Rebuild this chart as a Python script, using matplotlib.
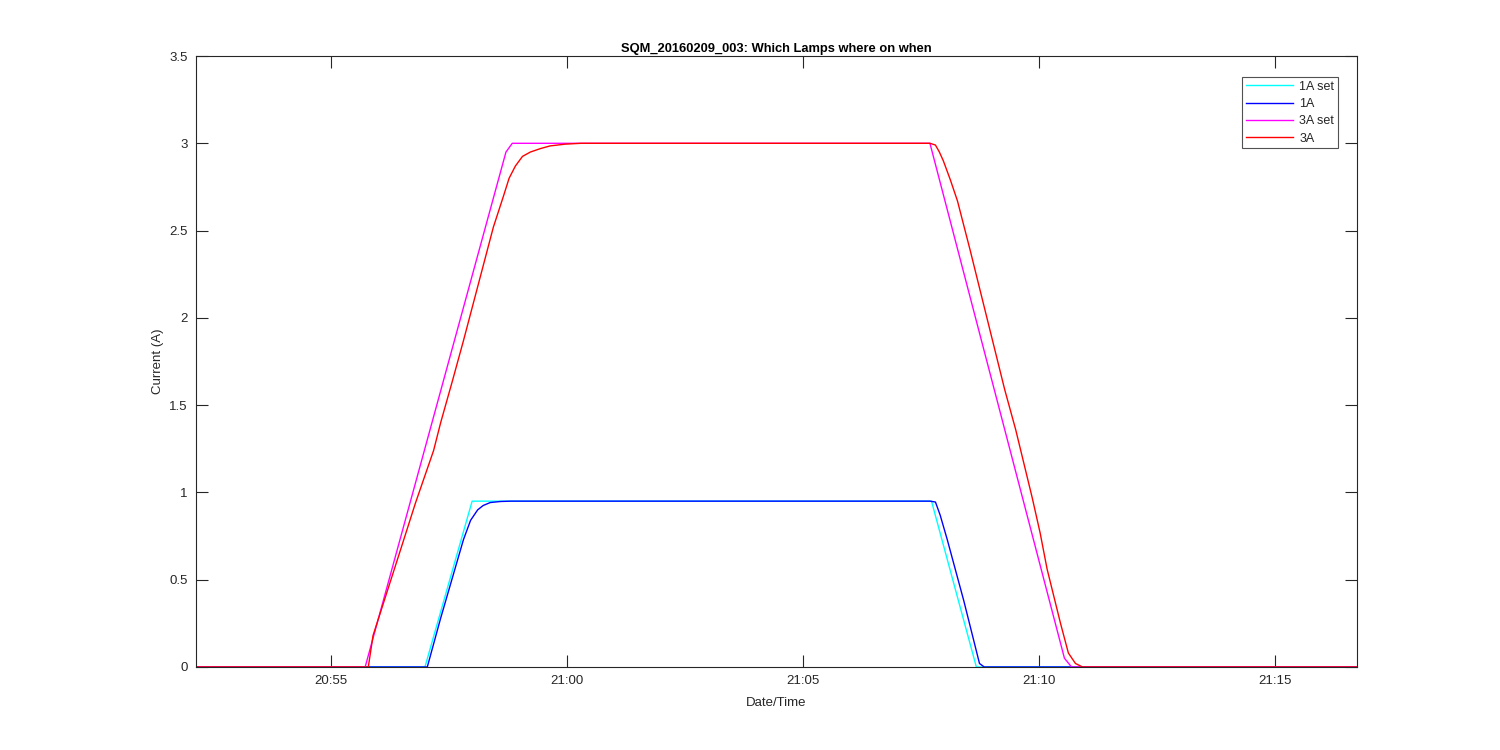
import matplotlib
matplotlib.use("Agg")
import matplotlib.pyplot as plt
import pandas as pd

DAY = "2016-02-09 "

# 1A set (cyan)
t_1a_set = ["20:52:08", "20:56:59", "20:57:59", "21:07:43", "21:08:40", "21:16:44"]
v_1a_set = [0.0, 0.0, 0.95, 0.95, 0.0, 0.0]

# 1A (blue)
t_1a = ["20:52:08", "20:57:02", "20:57:19", "20:57:48", "20:57:57", "20:58:06", "20:58:13",
        "20:58:22", "20:58:35", "20:58:48", "21:07:41", "21:07:48", "21:07:54", "21:08:03",
        "21:08:24", "21:08:44", "21:08:50", "21:16:44"]
v_1a = [0.0, 0.0, 0.28, 0.73, 0.84, 0.90, 0.925,
        0.942, 0.948, 0.95, 0.95, 0.945, 0.87, 0.73,
        0.38, 0.02, 0.0, 0.0]

# 3A set (magenta)
t_3a_set = ["20:52:08", "20:55:43", "20:58:42", "20:58:50", "21:07:41", "21:10:32", "21:10:41", "21:16:44"]
v_3a_set = [0.0, 0.0, 2.95, 3.0, 3.0, 0.05, 0.0, 0.0]

# 3A (red)
t_3a = ["20:52:08", "20:55:47", "20:55:53", "20:56:30", "20:56:47", "20:57:10", "20:57:19",
        "20:57:34", "20:57:48", "20:58:26", "20:58:39", "20:58:46", "20:58:54", "20:59:03",
        "20:59:13", "20:59:26", "20:59:38", "20:59:57", "21:00:17",
        "21:07:41", "21:07:48", "21:07:53", "21:07:58", "21:08:07", "21:08:16", "21:08:32",
        "21:09:16", "21:09:30", "21:09:51", "21:10:01", "21:10:10", "21:10:27", "21:10:37",
        "21:10:46", "21:10:55", "21:16:44"]
v_3a = [0.0, 0.0, 0.18, 0.70, 0.94, 1.24, 1.40,
        1.64, 1.87, 2.52, 2.70, 2.80, 2.87, 2.925,
        2.95, 2.97, 2.985, 2.995, 3.0,
        3.0, 2.99, 2.95, 2.90, 2.79, 2.67, 2.39,
        1.59, 1.36, 0.97, 0.77, 0.56, 0.25, 0.08,
        0.02, 0.0, 0.0]

xlim = ["20:52:08", "21:16:44"]
yticks = [0, 0.5, 1, 1.5, 2, 2.5, 3, 3.5]
yticklabels = ["0", "0.5", "1", "1.5", "2", "2.5", "3", "3.5"]
xticks = ["20:55", "21:00", "21:05", "21:10", "21:15"]


def to_dt(ts):
    return pd.to_datetime([DAY + t for t in ts])


plt.rcParams['font.family'] = ['Liberation Sans', 'DejaVu Sans']
axc = (0.15, 0.15, 0.15)

fig = plt.figure(figsize=(15, 7.5), dpi=100, facecolor='white')
ax = fig.add_axes([0.1307, 0.1107, 0.7740, 0.8146])

lw = 1.0
ax.plot(to_dt(t_1a_set), v_1a_set, color=(0, 1, 1), lw=lw, label="1A set")
ax.plot(to_dt(t_1a), v_1a, color=(0, 0, 1), lw=lw, label="1A")
ax.plot(to_dt(t_3a_set), v_3a_set, color=(1, 0, 1), lw=lw, label="3A set")
ax.plot(to_dt(t_3a), v_3a, color=(1, 0, 0), lw=lw, label="3A")

ax.set_xlim(to_dt(xlim))
ax.set_ylim(0, 3.5)
ax.set_yticks(yticks)
ax.set_yticklabels(yticklabels)
ax.set_xticks(to_dt(xticks))
ax.set_xticklabels(xticks)

for s in ax.spines.values():
    s.set_color(axc)
    s.set_linewidth(0.8)
ax.tick_params(direction='in', length=8.7, width=0.8, colors=axc, labelsize=9.5,
               top=True, right=True, pad=6)

ax.set_xlabel("Date/Time", fontsize=9.5, color=axc, labelpad=7)
ax.set_ylabel("Current (A)", fontsize=9.5, color=axc, labelpad=4)
ax.set_title("SQM_20160209_003: Which Lamps where on when", fontsize=9.3,
             fontweight='bold', color='black', pad=3)

leg = ax.legend(loc='upper right', bbox_to_anchor=(0.9836, 0.9656), borderaxespad=0,
                fontsize=9, frameon=True, fancybox=False, handlelength=3.8,
                borderpad=0.3, labelspacing=0.42, handletextpad=0.5)
leg.get_frame().set_edgecolor(axc)
leg.get_frame().set_linewidth(0.8)
for t in leg.get_texts():
    t.set_color(axc)

fig.savefig("out.png", dpi=100, facecolor='white')
